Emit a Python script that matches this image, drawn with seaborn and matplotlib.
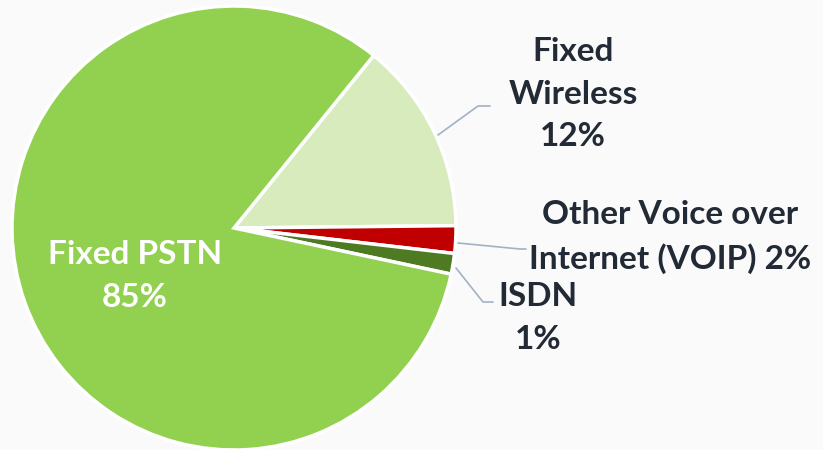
import matplotlib
matplotlib.use('Agg')
import matplotlib.pyplot as plt
import seaborn as sns

# Data (slice order clockwise from the upper-right boundary)
categories = ['Fixed Wireless', 'Other Voice over Internet (VOIP)', 'ISDN', 'Fixed PSTN']
shares = [14.0, 2.0, 1.5, 82.5]          # slice sizes as drawn
pct_labels = ['12%', '2%', '1%', '85%']  # percentages printed on the chart
colors = ['#D7EBBD', '#C00000', '#4E7A22', '#92D050']

sns.set_theme(style='white')
plt.rcParams['font.family'] = ['Lato', 'DejaVu Sans']

fig = plt.figure(figsize=(8.23, 4.5), dpi=100, facecolor='#FAFAFA')
ax = fig.add_axes([0, 0, 1, 1])
ax.set_facecolor('#FAFAFA')

ax.pie(shares, colors=colors, startangle=51, counterclock=False,
       radius=1.0, center=(0, 0),
       wedgeprops=dict(edgecolor='white', linewidth=2.5))

# pixel -> data helpers (centre at 234,228 px, radius 222 px)
def px(x):
    return (x - 234) / 222

def py(y):
    return (228 - y) / 222

ax.set_xlim(px(0), px(823))
ax.set_ylim(py(450), py(0))
ax.set_aspect('equal')
ax.axis('off')

dark = '#222A35'
line_col = '#A3B1C6'
fs = 24
ls = 1.58

# Fixed PSTN (inside)
ax.text(px(135), py(276), 'Fixed PSTN\n' + pct_labels[3], ha='center', va='center',
        color='white', fontsize=fs, fontweight='bold', linespacing=ls)

# Fixed Wireless
ax.text(px(573), py(94), 'Fixed\nWireless\n' + pct_labels[0], ha='center', va='center',
        color=dark, fontsize=fs, fontweight='bold', linespacing=ls)
ax.plot([px(438), px(478), px(490)], [py(135), py(106), py(106)], color=line_col, lw=1.2)

# VOIP
ax.text(px(670), py(237), 'Other Voice over\nInternet (VOIP) ' + pct_labels[1], ha='center',
        va='center', color=dark, fontsize=fs, fontweight='bold', linespacing=ls)
ax.plot([px(458), px(520), px(526)], [py(243), py(249), py(249)], color=line_col, lw=1.2)

# ISDN
ax.text(px(538), py(318), 'ISDN\n' + pct_labels[2], ha='center', va='center',
        color=dark, fontsize=fs, fontweight='bold', linespacing=ls)
ax.plot([px(456), px(483), px(493)], [py(268), py(302), py(302)], color=line_col, lw=1.2)

fig.savefig('out.png', dpi=100, facecolor=fig.get_facecolor())
